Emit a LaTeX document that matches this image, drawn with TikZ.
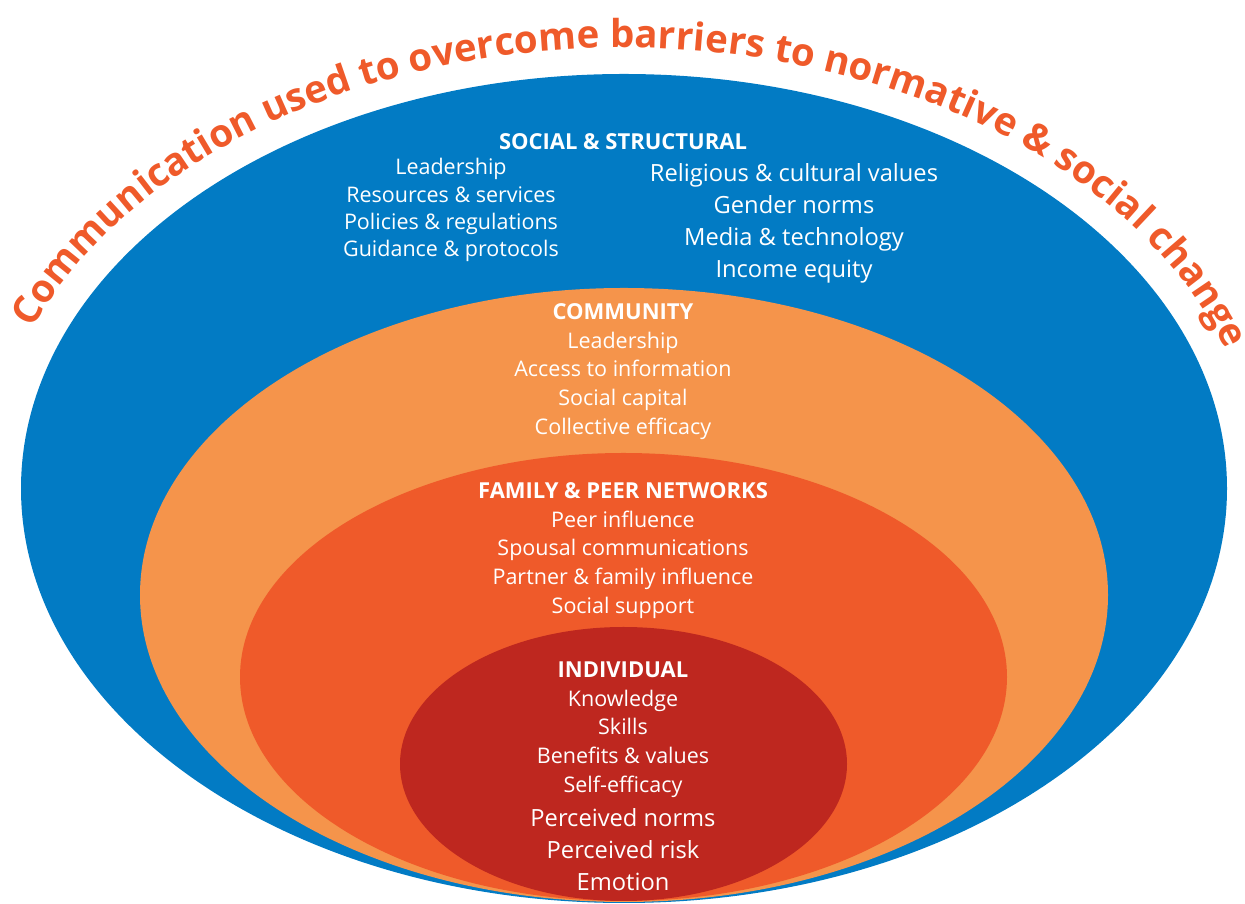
\documentclass[tikz,border=0pt]{standalone}
\usepackage{fontspec}
\setmainfont{Open Sans}
\newcommand{\layerhead}[1]{{\bfseries\fontsize{22}{28.7}\selectfont #1}}
\definecolor{BLUE}{HTML}{027BC4}
\definecolor{LORANGE}{HTML}{F5944B}
\definecolor{DORANGE}{HTML}{EF5A2A}
\definecolor{RED}{HTML}{BE271F}
\usetikzlibrary{shapes.geometric,decorations.text,positioning}

\begin{document}
\begin{tikzpicture}
[x=1pt, y=1pt, layer/.style={ellipse, draw=none, inner sep=0pt, outer sep=0pt},
lines/.style={text=white, align=center, inner sep=0pt, anchor=north,
font=\fontsize{21.5}{28.7}\selectfont},
biglines/.style={lines, font=\fontsize{23.7}{32}\selectfont},
titlearc/.style={decorate, decoration={text along path, text align=center,
text={|\bfseries\fontsize{38.5}{38.5}\selectfont\color{DORANGE}|Communication used to overcome barriers to normative {\&} social change}}}]
\useasboundingbox (0,0) rectangle (1245,904);
\node[layer, fill=BLUE, minimum width=1206pt, minimum height=829pt] (social) at (624,415.5) {};
\node[layer, fill=LORANGE, minimum width=968pt, minimum height=614pt] (community) at (624,309) {};
\node[layer, fill=DORANGE, minimum width=767pt, minimum height=448pt] (family) at (623.5,227) {};
\node[layer, fill=RED, minimum width=447pt, minimum height=274pt] (individual) at (623.5,140) {};
% curved title above the outer layer
\path[titlearc] (social.center) ++(164:634 and 440.5) arc[start angle=164, end angle=13, x radius=634, y radius=440.5];
% social & structural
\node[lines] (soc-head) at (623,770.7) {\layerhead{SOCIAL \& STRUCTURAL}};
\node[lines, font=\fontsize{21.5}{27.3}\selectfont] (soc-left) at (451,745.6)
{Leadership\\Resources \& services\\Policies \& regulations\\Guidance \& protocols};
\node[biglines] (soc-right) at (794,740.5)
{Religious \& cultural values\\Gender norms\\Media \& technology\\Income equity};
% community
\node[lines] (com-text) at (623,600.7)
{\layerhead{COMMUNITY}\\Leadership\\Access to information\\Social capital\\Collective efficacy};
% family & peer networks
\node[lines] (fam-text) at (623,421.7)
{\layerhead{FAMILY \& PEER NETWORKS}\\Peer influence\\Spousal communications\\Partner \& family influence\\Social support};
% individual
\node[lines] (ind-text) at (623,242.5)
{\layerhead{INDIVIDUAL}\\Knowledge\\Skills\\Benefits \& values\\Self-efficacy};
\node[biglines] (ind-more) at (623,95.5) {Perceived norms\\Perceived risk\\Emotion};
\end{tikzpicture}
\end{document}
